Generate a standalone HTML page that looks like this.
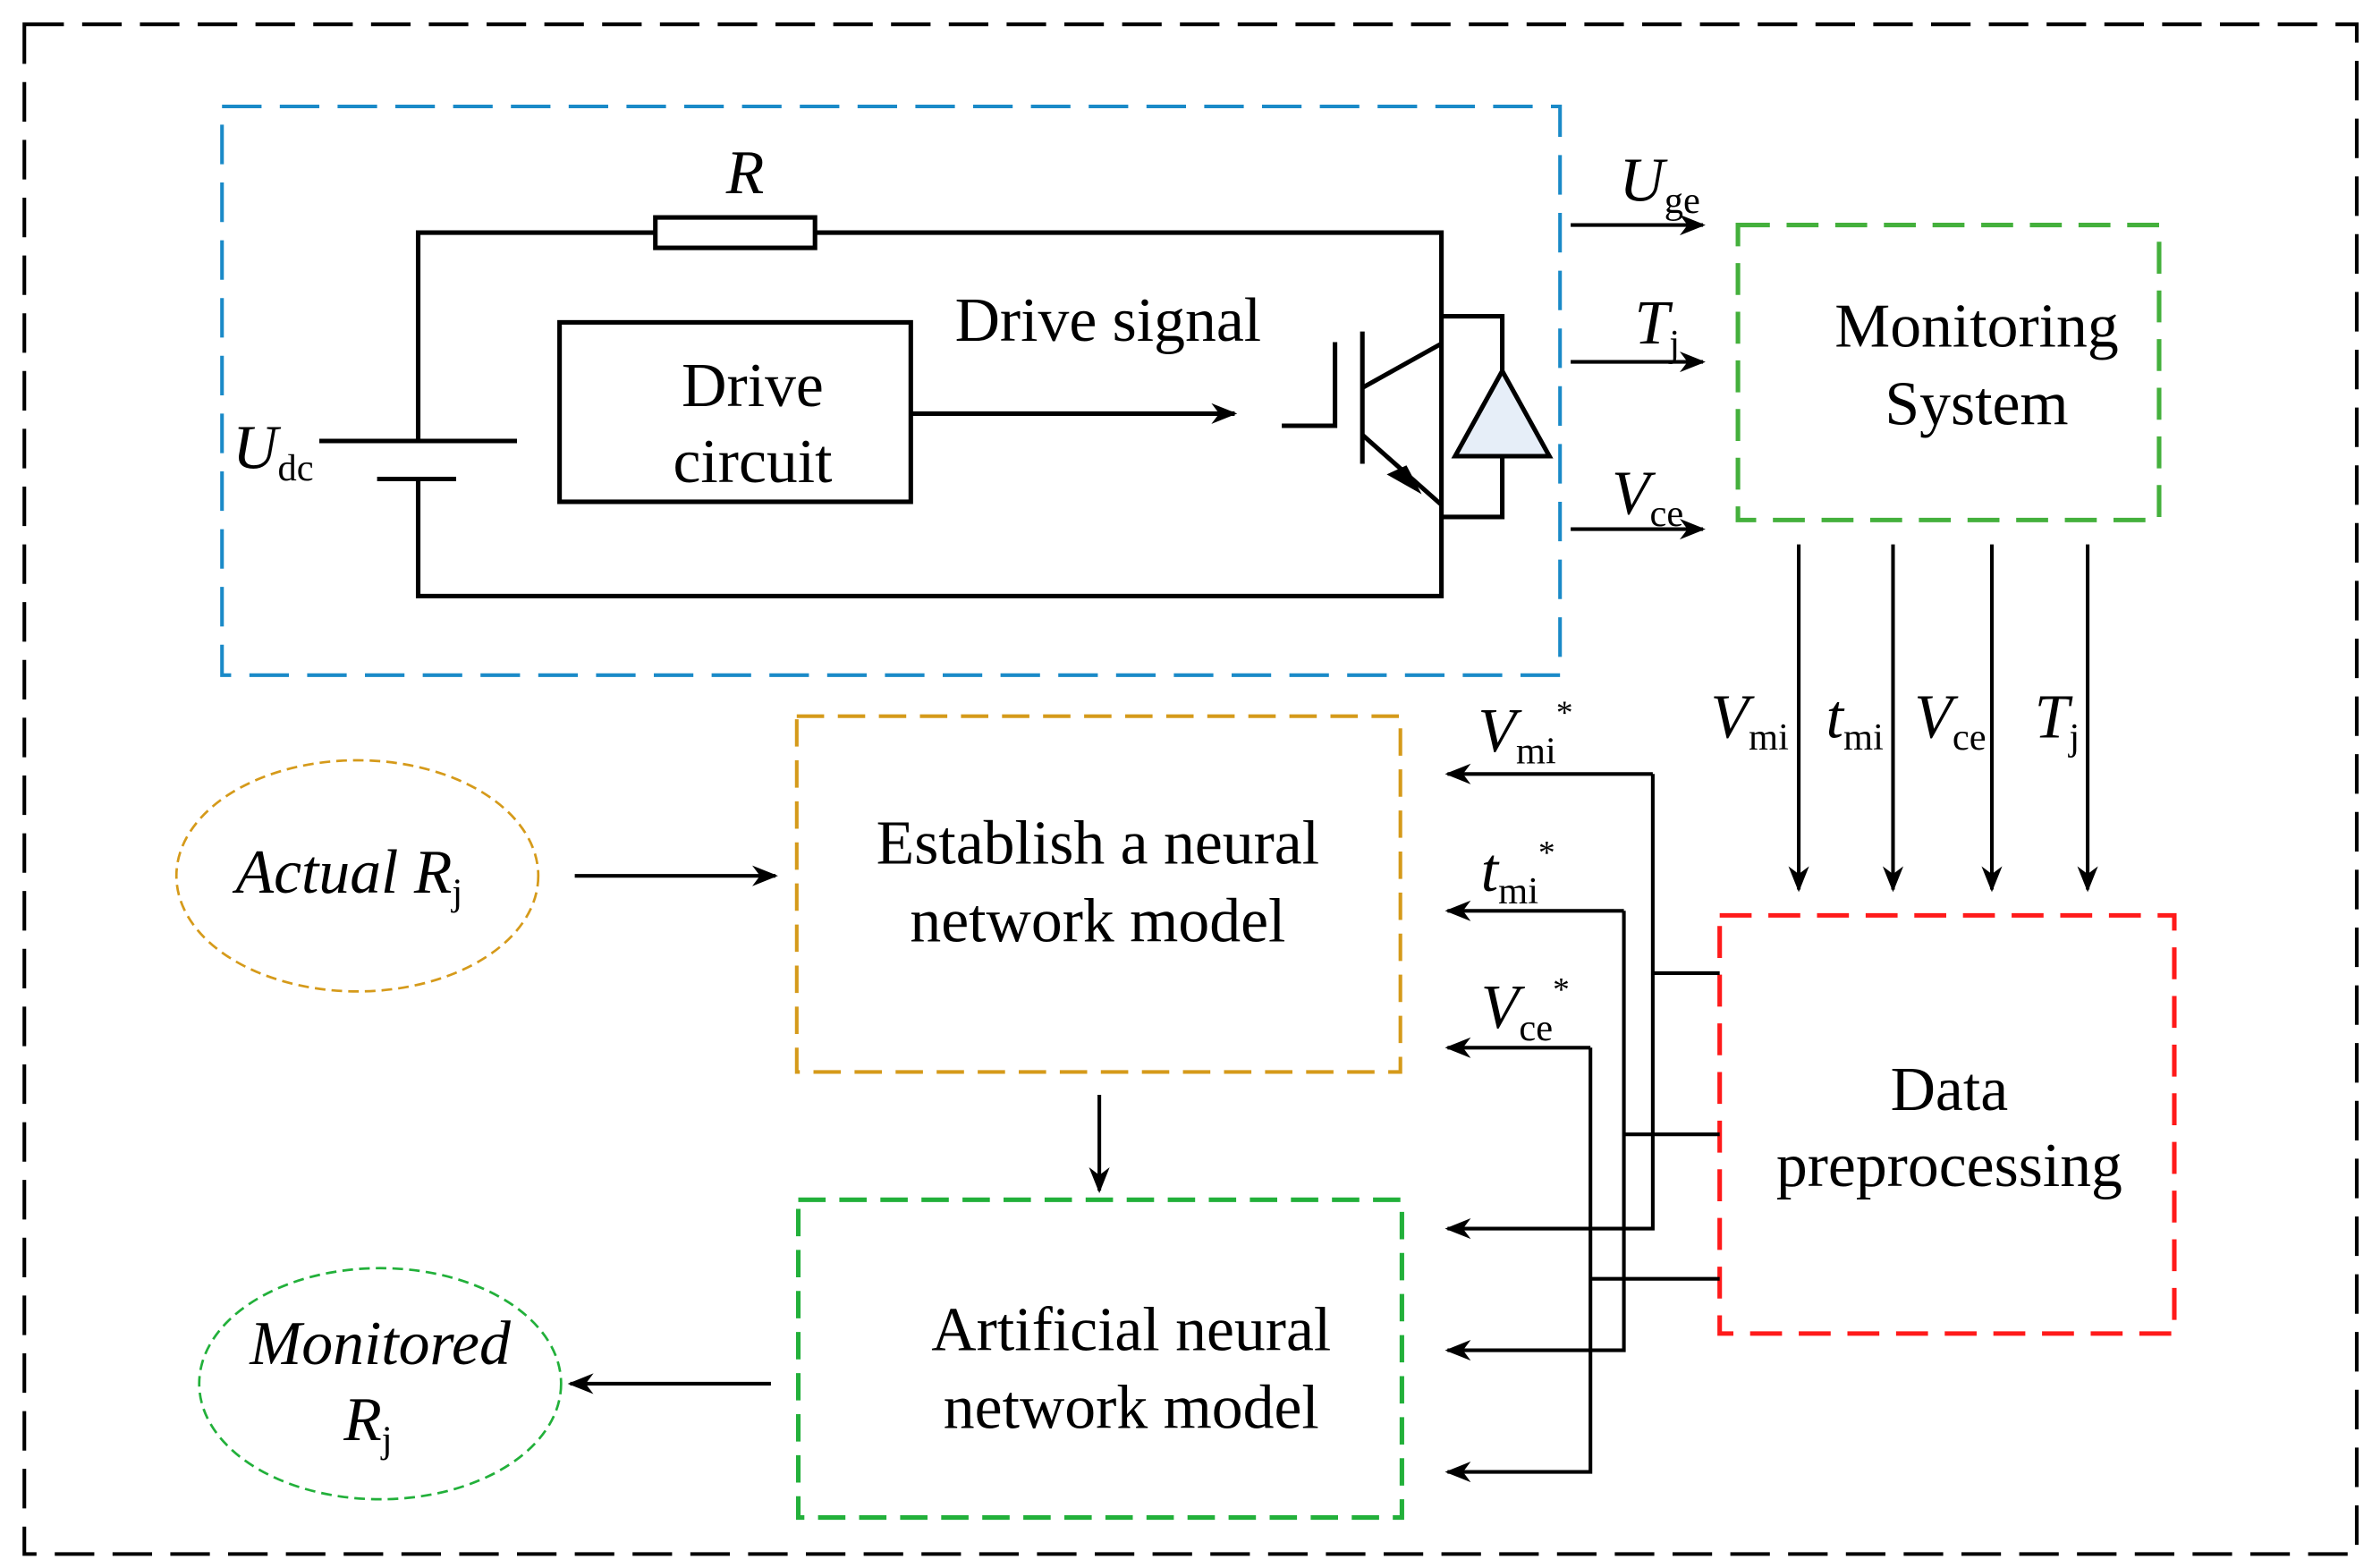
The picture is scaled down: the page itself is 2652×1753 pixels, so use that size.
<!DOCTYPE html>
<html><head><meta charset="utf-8"><style>
html,body{margin:0;padding:0;background:#fff}
svg{display:block}
text{font-family:"Liberation Serif",serif;fill:#000}
.it{font-style:italic}
</style></head><body>
<svg width="2652" height="1753" viewBox="0 0 1560 1031.2" xmlns="http://www.w3.org/2000/svg">
<defs>
<marker id="ar" viewBox="0 0 10 10" refX="9" refY="5" markerWidth="17" markerHeight="17" markerUnits="userSpaceOnUse" orient="auto">
<path d="M0,1 L10,5 L0,9 L3,5 Z" fill="#000"/></marker>
</defs>
<g fill="none" stroke-width="2.4">
<rect x="16" y="16" width="1534" height="1006" stroke="#000" stroke-dasharray="26,12"/>
<rect x="146" y="70" width="880" height="374" stroke="#1a8ac8" stroke-dasharray="26,12"/>
<rect x="1143" y="148" width="277" height="194" stroke="#44b03c" stroke-width="3" stroke-dasharray="21,11"/>
<rect x="1131" y="602" width="299" height="275" stroke="#ff1a1a" stroke-width="3" stroke-dasharray="21,11"/>
<rect x="524" y="471" width="397" height="234" stroke="#d59a1a" stroke-dasharray="18,9"/>
<rect x="525" y="789" width="397" height="209" stroke="#22b03a" stroke-width="3" stroke-dasharray="18,9"/>
<ellipse cx="235" cy="576" rx="119" ry="76" stroke="#d59a1a" stroke-width="1.6" stroke-dasharray="7,4"/>
<ellipse cx="250" cy="910" rx="119" ry="76" stroke="#22b03a" stroke-width="1.6" stroke-dasharray="7,4"/>
</g>
<g fill="none" stroke="#000" stroke-width="3">
<polyline points="275,290 275,153 948,153 948,392 275,392 275,315"/>
<rect x="431" y="143" width="105" height="20" fill="#fff"/>
<line x1="210" y1="290" x2="340" y2="290"/>
<line x1="248" y1="315" x2="300" y2="315"/>
<rect x="368" y="212" width="231" height="118"/>
<line x1="599" y1="272" x2="812" y2="272" marker-end="url(#ar)"/>
<polyline points="843,280 878,280 878,225"/>
<line x1="896" y1="218" x2="896" y2="305"/>
<line x1="896" y1="255" x2="948" y2="226"/>
<line x1="896" y1="286" x2="948" y2="332"/>
<polyline points="948,208 988,208 988,244"/>
<polyline points="948,340 988,340 988,300"/>
<polygon points="988,244 957,300 1019,300" fill="#e6eef8"/>
</g>
<path d="M912,312 L935,325 L925,306 Z" fill="#000"/>
<g stroke="#000" stroke-width="2.4" fill="none">
<line x1="1033" y1="148" x2="1120" y2="148" marker-end="url(#ar)"/>
<line x1="1033" y1="238" x2="1120" y2="238" marker-end="url(#ar)"/>
<line x1="1033" y1="348" x2="1120" y2="348" marker-end="url(#ar)"/>
<line x1="1183" y1="358" x2="1183" y2="585" marker-end="url(#ar)"/>
<line x1="1245" y1="358" x2="1245" y2="585" marker-end="url(#ar)"/>
<line x1="1310" y1="358" x2="1310" y2="585" marker-end="url(#ar)"/>
<line x1="1373" y1="358" x2="1373" y2="585" marker-end="url(#ar)"/>
<line x1="378" y1="576" x2="510" y2="576" marker-end="url(#ar)"/>
<line x1="723" y1="720" x2="723" y2="783" marker-end="url(#ar)"/>
<line x1="507" y1="910" x2="375" y2="910" marker-end="url(#ar)"/>
<polyline points="1087,509 952,509" marker-end="url(#ar)"/>
<polyline points="1087,509 1087,808 952,808" marker-end="url(#ar)"/>
<line x1="1087" y1="640" x2="1131" y2="640"/>
<polyline points="1068,599 952,599" marker-end="url(#ar)"/>
<polyline points="1068,599 1068,888 952,888" marker-end="url(#ar)"/>
<line x1="1068" y1="746" x2="1131" y2="746"/>
<polyline points="1046,689 952,689" marker-end="url(#ar)"/>
<polyline points="1046,689 1046,968 952,968" marker-end="url(#ar)"/>
<line x1="1046" y1="841" x2="1131" y2="841"/>
</g>
<g font-size="41">
<text x="490" y="127" text-anchor="middle" class="it">R</text>
<text x="153" y="308" class="it">U<tspan font-size="25" font-style="normal" dy="8">dc</tspan></text>
<text x="495" y="267" text-anchor="middle">Drive</text>
<text x="495" y="317" text-anchor="middle">circuit</text>
<text x="628" y="224">Drive signal</text>
<text x="1065" y="132" class="it">U<tspan font-size="25" font-style="normal" dy="8">ge</tspan></text>
<text x="1075" y="226" class="it">T<tspan font-size="25" font-style="normal" dy="8">j</tspan></text>
<text x="1060" y="338" class="it">V<tspan font-size="25" font-style="normal" dy="8">ce</tspan></text>
<text x="1300" y="228" text-anchor="middle">Monitoring</text>
<text x="1300" y="279" text-anchor="middle">System</text>
<text x="1125" y="485" class="it">V<tspan font-size="25" font-style="normal" dy="8">mi</tspan></text>
<text x="1201" y="485" class="it">t<tspan font-size="25" font-style="normal" dy="8">mi</tspan></text>
<text x="1259" y="485" class="it">V<tspan font-size="25" font-style="normal" dy="8">ce</tspan></text>
<text x="1338" y="485" class="it">T<tspan font-size="25" font-style="normal" dy="8">j</tspan></text>
<text x="1282" y="730" text-anchor="middle">Data</text>
<text x="1282" y="780" text-anchor="middle">preprocessing</text>
<text x="722" y="568" text-anchor="middle">Establish a neural</text>
<text x="722" y="619" text-anchor="middle">network model</text>
<text x="744" y="888" text-anchor="middle">Artificial neural</text>
<text x="744" y="939" text-anchor="middle">network model</text>
<text x="155" y="587" class="it">Actual R<tspan font-size="25" font-style="normal" dy="8">j</tspan></text>
<text x="250" y="897" text-anchor="middle" class="it">Monitored</text>
<text x="226" y="947" class="it">R<tspan font-size="25" font-style="normal" dy="8">j</tspan></text>
<text x="972" y="494" class="it">V<tspan font-size="25" font-style="normal" dy="8">mi</tspan><tspan font-size="22" font-style="normal" dy="-26">*</tspan></text>
<text x="974" y="586" class="it">t<tspan font-size="25" font-style="normal" dy="8">mi</tspan><tspan font-size="22" font-style="normal" dy="-26">*</tspan></text>
<text x="974" y="676" class="it">V<tspan font-size="25" font-style="normal" dy="8">ce</tspan><tspan font-size="22" font-style="normal" dy="-26">*</tspan></text>
</g>
</svg>
</body></html>
